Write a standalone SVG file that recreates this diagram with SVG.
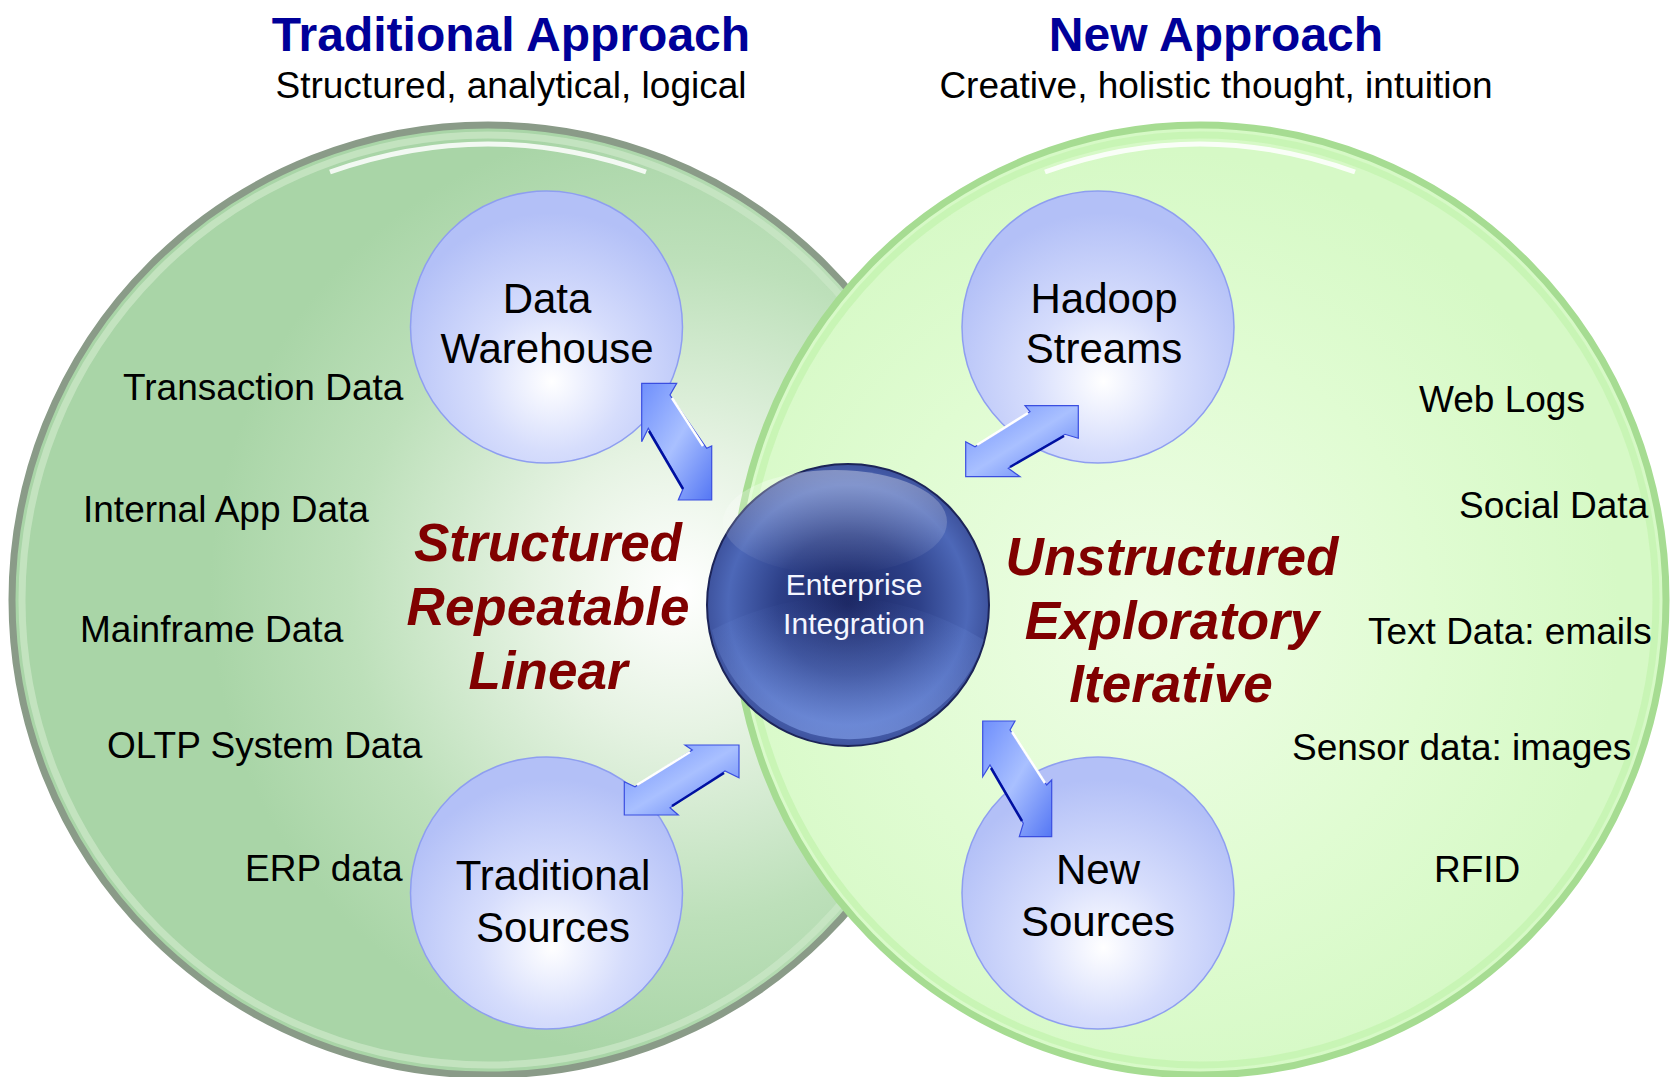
<svg xmlns="http://www.w3.org/2000/svg" width="1674" height="1077" viewBox="0 0 1674 1077">
<style>
.title{font-family:"Liberation Sans",Arial,sans-serif;font-weight:bold;font-size:48px;fill:#000099;text-anchor:middle}
.sub{font-family:"Liberation Sans",Arial,sans-serif;font-size:37px;fill:#000;text-anchor:middle}
.lbl{font-family:"Liberation Sans",Arial,sans-serif;font-size:37px;fill:#000}
.node{font-family:"Liberation Sans",Arial,sans-serif;font-size:42px;fill:#000;text-anchor:middle}
.big{font-family:"Liberation Sans",Arial,sans-serif;font-size:53px;font-weight:bold;font-style:italic;fill:#800000;text-anchor:middle}
.ei{font-family:"Liberation Sans",Arial,sans-serif;font-size:30px;fill:#f4f6ff;text-anchor:middle}
.bub{stroke:#8e9ef0;stroke-width:1.5}
.arrow{fill:url(#arrG);stroke:#3a4ee0;stroke-width:1.2;stroke-linejoin:miter}
.hl{stroke:#ffffff;stroke-width:2.5;fill:none}
.dk{stroke:#0010a0;stroke-width:2.5;fill:none}
</style>
<defs>
<radialGradient id="leftG" gradientUnits="userSpaceOnUse" cx="680" cy="590" r="470">
<stop offset="0" stop-color="#ffffff"/>
<stop offset="0.3" stop-color="#e6f3e3"/>
<stop offset="0.7" stop-color="#bde0ba"/>
<stop offset="1" stop-color="#a9d5a7"/>
</radialGradient>
<radialGradient id="rightG" gradientUnits="userSpaceOnUse" cx="1150" cy="620" r="470">
<stop offset="0" stop-color="#eefde6"/>
<stop offset="0.6" stop-color="#e0fcd2"/>
<stop offset="1" stop-color="#d6f9c6"/>
</radialGradient>
<radialGradient id="bubG" cx="0.52" cy="0.68" r="0.6" fx="0.52" fy="0.7">
<stop offset="0" stop-color="#ffffff"/>
<stop offset="0.45" stop-color="#d6ddfc"/>
<stop offset="1" stop-color="#b3c0f7"/>
</radialGradient>
<radialGradient id="eiG" cx="0.5" cy="0.5" r="0.5">
<stop offset="0" stop-color="#1b2662"/>
<stop offset="0.5" stop-color="#2d4088"/>
<stop offset="0.85" stop-color="#4d68b8"/>
<stop offset="1" stop-color="#3e539e"/>
</radialGradient>
<linearGradient id="glossG" x1="0" y1="0" x2="0" y2="1">
<stop offset="0" stop-color="#ffffff" stop-opacity="0.35"/>
<stop offset="1" stop-color="#ffffff" stop-opacity="0"/>
</linearGradient>
<linearGradient id="lowG" x1="0" y1="0" x2="0" y2="1">
<stop offset="0" stop-color="#7090e0" stop-opacity="0"/>
<stop offset="1" stop-color="#88a6f0" stop-opacity="0.6"/>
</linearGradient>
<linearGradient id="arrG" x1="0" y1="0" x2="1" y2="1">
<stop offset="0" stop-color="#6f8ffc"/>
<stop offset="0.5" stop-color="#a9c0ff"/>
<stop offset="1" stop-color="#5577f4"/>
</linearGradient>
</defs>

<g id="left-circle">
<ellipse cx="488" cy="600" rx="476" ry="475" fill="url(#leftG)" stroke="#8a9b88" stroke-width="7"/>
<ellipse cx="488" cy="600" rx="466" ry="465" fill="none" stroke="#c9e6c5" stroke-width="7" opacity="0.8"/>
<path d="M 330 172 Q 488 116 646 172" fill="none" stroke="#ffffff" stroke-width="5" opacity="0.85"/>
</g>
<g id="right-circle">
<ellipse cx="1200" cy="600" rx="466" ry="475" fill="url(#rightG)" stroke="#a6dc92" stroke-width="7"/>
<ellipse cx="1200" cy="600" rx="456" ry="465" fill="none" stroke="#c6f4b2" stroke-width="7" opacity="0.9"/>
<path d="M 1045 172 Q 1200 116 1355 172" fill="none" stroke="#ffffff" stroke-width="5" opacity="0.85"/>
</g>

<g id="titles">
<text class="title" x="511" y="51">Traditional Approach</text>
<text class="sub" x="511" y="98">Structured, analytical, logical</text>
<text class="title" x="1216" y="51">New Approach</text>
<text class="sub" x="1216" y="98">Creative, holistic thought, intuition</text>
</g>

<g id="node-data-warehouse">
<circle class="bub" cx="546.5" cy="327" r="136" fill="url(#bubG)"/>
<text class="node" x="547" y="313">Data</text>
<text class="node" x="547" y="363">Warehouse</text>
</g>
<g id="node-hadoop-streams">
<circle class="bub" cx="1098" cy="327" r="136" fill="url(#bubG)"/>
<text class="node" x="1104" y="313">Hadoop</text>
<text class="node" x="1104" y="363">Streams</text>
</g>
<g id="node-traditional-sources">
<circle class="bub" cx="546.5" cy="893" r="136" fill="url(#bubG)"/>
<text class="node" x="553" y="890">Traditional</text>
<text class="node" x="553" y="942">Sources</text>
</g>
<g id="node-new-sources">
<circle class="bub" cx="1098" cy="893" r="136" fill="url(#bubG)"/>
<text class="node" x="1098" y="884">New</text>
<text class="node" x="1098" y="936">Sources</text>
</g>

<g id="node-enterprise-integration">
<circle cx="848" cy="605" r="141" fill="url(#eiG)" stroke="#1c2458" stroke-width="2"/>
<path d="M 712 630 Q 848 560 984 640 A 141 141 0 0 1 712 630 Z" fill="url(#lowG)"/>
<ellipse cx="835" cy="522" rx="112" ry="52" fill="url(#glossG)"/>
<text class="ei" x="854" y="595">Enterprise</text>
<text class="ei" x="854" y="634">Integration</text>
</g>

<g id="connectors">
<polygon class="arrow" points="641.7,383.3 676.7,383.3 670,395 706.7,448.3 711.7,446 711.7,500 678.3,500 683.3,488.3 648.3,428.3 641.7,441.7"/>
<line class="hl" x1="672" y1="398" x2="703" y2="446"/>
<line class="dk" x1="649" y1="431" x2="683" y2="489"/>
<polygon class="arrow" points="965.7,441.7 975,446.7 1030,411.7 1025,405.7 1078.3,405.7 1078.3,438.3 1065,434.3 1008.3,468.3 1020,476.7 965.7,476.7"/>
<line class="hl" x1="977" y1="445" x2="1028" y2="413"/>
<line class="dk" x1="1010" y1="467" x2="1064" y2="436"/>
<polygon class="arrow" points="624.3,781.7 635,786.7 692.3,750 685,745 739,745 739,777.7 725,771 670,807.7 678.3,815 624.3,815"/>
<line class="hl" x1="637" y1="785" x2="690" y2="752"/>
<line class="dk" x1="672" y1="806" x2="724" y2="773"/>
<polygon class="arrow" points="982.7,721 1015,721 1010,730 1046.7,785 1051.7,780 1051.7,836.7 1019.3,836.7 1023.3,823.3 990,765 982.7,776.7"/>
<line class="hl" x1="1012" y1="732" x2="1045" y2="783"/>
<line class="dk" x1="991" y1="768" x2="1022" y2="821"/>
</g>

<g id="left-labels">
<text class="lbl" x="123" y="400">Transaction Data</text>
<text class="lbl" x="83" y="522">Internal App Data</text>
<text class="lbl" x="80" y="642">Mainframe Data</text>
<text class="lbl" x="107" y="758">OLTP System Data</text>
<text class="lbl" x="245" y="881">ERP data</text>
</g>
<g id="right-labels">
<text class="lbl" x="1419" y="412">Web Logs</text>
<text class="lbl" x="1459" y="518">Social Data</text>
<text class="lbl" x="1368" y="644">Text Data: emails</text>
<text class="lbl" x="1292" y="760">Sensor data: images</text>
<text class="lbl" x="1434" y="882">RFID</text>
</g>

<g id="left-theme">
<text class="big" x="548" y="561">Structured</text>
<text class="big" x="548" y="625">Repeatable</text>
<text class="big" x="548" y="689">Linear</text>
</g>
<g id="right-theme">
<text class="big" x="1172" y="575">Unstructured</text>
<text class="big" x="1172" y="639">Exploratory</text>
<text class="big" x="1171" y="702">Iterative</text>
</g>
</svg>
